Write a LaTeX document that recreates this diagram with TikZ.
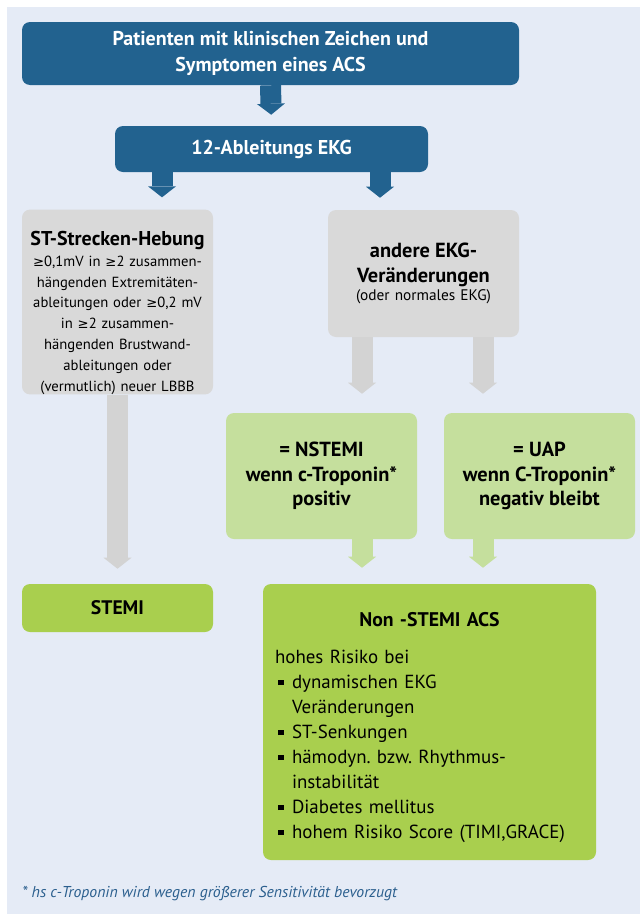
\documentclass[tikz,border=0pt]{standalone}
\usepackage{fontspec}
\setmainfont{PT Sans}
\newfontfamily\symfont[Scale=0.9]{DejaVu Sans}
\usetikzlibrary{arrows.meta}

\definecolor{bgblue}{HTML}{E5EBF6}
\definecolor{boxblue}{HTML}{22628F}
\definecolor{boxgray}{HTML}{D9D9D9}
\definecolor{arrgray}{HTML}{D3D3D3}
\definecolor{lightgreen}{HTML}{C5DF9D}
\definecolor{darkgreen}{HTML}{A9CF4E}
\definecolor{footblue}{HTML}{2B5F8E}

\frenchspacing
\newcommand{\geqsym}{{\symfont ≥}}
\newcommand{\riskitem}[1]{\par\noindent\makebox[12.75pt][l]{\hspace{2.5pt}\rule[2.6pt]{4pt}{4pt}}#1}
\newcommand{\riskmore}[1]{\par\noindent\hspace*{12.75pt}#1}

\begin{document}
\begin{tikzpicture}[x=0.75pt, y=-0.75pt,
	flowbox/.style={rounded corners=6pt, inner sep=0pt},
	bluebox/.style={flowbox, align=center, fill=boxblue, text=white, font=\bfseries\fontsize{15}{19}\selectfont},
	graybox/.style={flowbox, fill=boxgray, minimum width=143.25pt, text width=141pt},
	greenbox/.style={flowbox, align=center, fill=lightgreen, minimum width=143.25pt, minimum height=94.5pt, font=\bfseries\fontsize{15.3}{18.4}\selectfont},
	fatarrow/.style={line width=15.75pt, -{Triangle[length=8.25pt, width=21pt, line width=0pt]}, shorten >=#1},
	bluearrow/.style={fatarrow=#1, draw=boxblue},
	grayarrow/.style={fatarrow=#1, draw=arrgray},
	greenarrow/.style={fatarrow=#1, draw=lightgreen}]
	
		% Background
		\useasboundingbox[fill=white] (0,0) rectangle (640,914);
		\fill[bgblue] (7,7) rectangle (640,914);
		
		% Columns
		\coordinate (colL) at (162,0);
		\coordinate (colR) at (380,0);
		\coordinate (colA) at (362,0);
		\coordinate (colB) at (483,0);
		
		% Boxes
		\node[bluebox, minimum width=372.75pt, minimum height=47.25pt] (patient) at (270.5,53.5) {Patienten mit klinischen Zeichen und\\Symptomen eines ACS};
		\node[bluebox, minimum width=234.75pt, minimum height=34.5pt] (ekg) at (271.5,149) {12-Ableitungs EKG};
		\node[graybox, minimum height=137.25pt, font=\fontsize{11}{15.6}\selectfont] (hebung) at (117.5,302)
			{\centering{\bfseries\fontsize{15}{18}\selectfont\rule{0pt}{27pt}ST-Strecken-Hebung\par}
			\geqsym0,1mV in \geqsym2 zusammen-\\hängenden Extremitäten-\\ableitungen oder \geqsym0,2 mV\\in \geqsym2 zusammen-\\hängenden Brustwand-\\ableitungen oder\\(vermutlich) neuer LBBB\par};
		\node[graybox, minimum height=95.25pt, font=\fontsize{11.5}{13}\selectfont] (andere) at (423.5,273.5)
			{\centering{\bfseries\fontsize{15.3}{18.75}\selectfont andere EKG-\\Veränderungen\par}
			(oder normales EKG)\par};
		\node[greenbox] (nstemi) at (321.5,476) {= NSTEMI\\wenn c-Troponin*\\positiv};
		\node[greenbox] (uap) at (539.5,476) {= UAP\\wenn C-Troponin*\\negativ bleibt};
		\node[flowbox, align=center, fill=darkgreen, minimum width=143.25pt, minimum height=36pt, font=\bfseries\fontsize{14.7}{18}\selectfont] (stemi) at (117.5,608) {STEMI};
		\node[flowbox, fill=darkgreen, minimum width=249.75pt, minimum height=207pt, text width=231.75pt, font=\fontsize{14.2}{18.75}\selectfont] (nonstemi) at (429.5,722)
			{{\centering\bfseries\fontsize{14.8}{18}\selectfont\rule{0pt}{19pt}Non -STEMI ACS\par}\vspace{9pt}
			\noindent hohes Risiko bei
			\riskitem{dynamischen EKG}
			\riskmore{Veränderungen}
			\riskitem{ST-Senkungen}
			\riskitem{hämodyn. bzw. Rhythmus-}
			\riskmore{instabilität}
			\riskitem{Diabetes mellitus}
			\riskitem{hohem Risiko Score (TIMI,GRACE)}\par};
		
		% Arrows
		\draw[bluearrow=8.25pt] (patient.south) -- (ekg.north);
		\draw[bluearrow=9pt] (ekg.south -| colL) -- (hebung.north -| colL);
		\draw[bluearrow=9pt] (ekg.south -| colR) -- (andere.north -| colR);
		\draw[grayarrow=11.25pt] (hebung.south) -- (stemi.north);
		\draw[grayarrow=14.25pt] (andere.south -| colA) -- (nstemi.north -| colA);
		\draw[grayarrow=14.25pt] (andere.south -| colB) -- (uap.north -| colB);
		\draw[greenarrow=12pt] (nstemi.south -| colA) -- (nonstemi.north -| colA);
		\draw[greenarrow=12pt] (uap.south -| colB) -- (nonstemi.north -| colB);
		
		% Footnote
		\node[anchor=base west, text=footblue, font=\itshape\fontsize{11.8}{14}\selectfont, inner sep=0pt] (footnote) at (22,897) {* hs c-Troponin wird wegen größerer Sensitivität bevorzugt};
	\end{tikzpicture}
\end{document}
